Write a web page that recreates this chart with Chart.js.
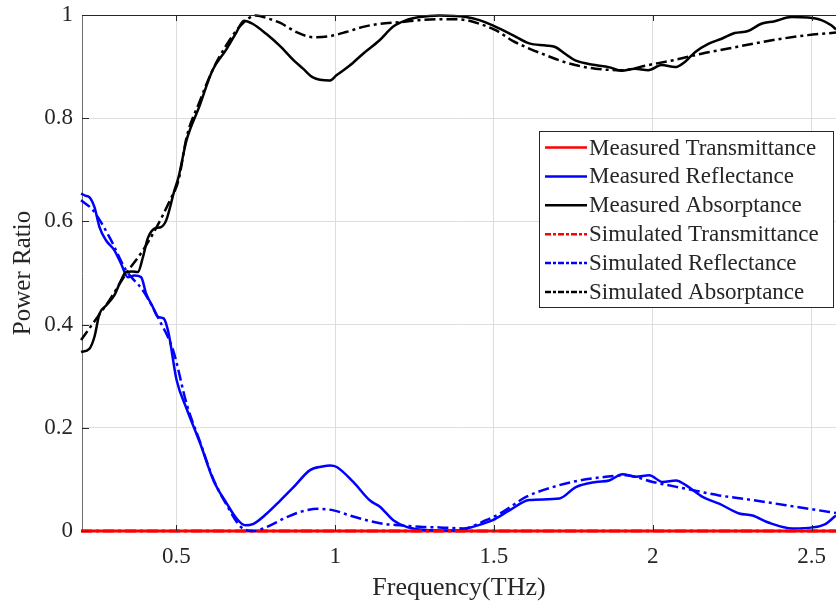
<!DOCTYPE html>
<html><head><meta charset="utf-8">
<script src="https://cdn.jsdelivr.net/npm/chart.js@4/dist/chart.umd.min.js"></script>
<style>html,body{margin:0;padding:0;background:#fff}#wrap{width:836px;height:608px}</style>
</head><body><div id="wrap"><canvas id="c" width="836" height="608"></canvas></div>
<script>
// ---- data ----
const seriesNames = ["Measured Transmittance","Measured Reflectance","Measured Absorptance","Simulated Transmittance","Simulated Reflectance","Simulated Absorptance"];

const freqTrans = [0.2,0.6,1.0,1.4,1.8,2.2,2.6];
const measTrans = [0,0,0,0,0,0,0];
const simTrans  = [0,0,0,0,0,0,0];

const freqMeasRefl = [0.200,0.213,0.226,0.242,0.258,0.279,0.305,0.326,0.347,0.368,0.389,0.405,0.426,0.442,0.460,0.475,0.501,0.533,0.575,0.617,0.659,0.690,0.717,0.743,0.785,0.827,0.869,0.921,0.960,0.984,1.005,1.057,1.110,1.141,1.183,1.225,1.267,1.330,1.391,1.433,1.496,1.549,1.611,1.706,1.758,1.821,1.863,1.905,1.947,1.989,2.031,2.073,2.104,2.157,2.209,2.272,2.314,2.366,2.440,2.503,2.545,2.571,2.577];
const measRefl = [0.654,0.650,0.647,0.628,0.589,0.563,0.544,0.518,0.492,0.495,0.492,0.460,0.434,0.415,0.412,0.385,0.292,0.236,0.170,0.098,0.053,0.024,0.011,0.014,0.034,0.059,0.085,0.118,0.125,0.127,0.124,0.095,0.059,0.047,0.021,0.008,0.003,0.001,0.001,0.008,0.021,0.040,0.060,0.063,0.085,0.095,0.098,0.110,0.105,0.108,0.095,0.098,0.089,0.066,0.053,0.034,0.030,0.016,0.005,0.007,0.014,0.027,0.030];

const freqMeasAbs = [0.200,0.226,0.242,0.258,0.279,0.305,0.326,0.342,0.360,0.379,0.395,0.410,0.431,0.452,0.468,0.494,0.507,0.532,0.572,0.614,0.656,0.687,0.713,0.740,0.782,0.826,0.868,0.899,0.930,0.983,1.004,1.046,1.088,1.140,1.182,1.224,1.266,1.328,1.412,1.454,1.496,1.559,1.611,1.664,1.693,1.724,1.756,1.819,1.861,1.902,1.944,1.986,2.028,2.070,2.101,2.133,2.175,2.217,2.258,2.300,2.342,2.384,2.437,2.489,2.531,2.562,2.577];
const measAbs = [0.347,0.353,0.376,0.421,0.437,0.457,0.486,0.502,0.503,0.502,0.531,0.567,0.586,0.589,0.602,0.660,0.686,0.757,0.822,0.893,0.932,0.964,0.989,0.983,0.964,0.940,0.913,0.896,0.879,0.873,0.883,0.902,0.925,0.951,0.977,0.990,0.996,0.999,0.996,0.990,0.980,0.961,0.945,0.941,0.938,0.925,0.912,0.903,0.899,0.892,0.896,0.893,0.903,0.899,0.909,0.928,0.944,0.954,0.965,0.969,0.983,0.988,0.996,0.995,0.990,0.980,0.972];

const freqSimRefl = [0.200,0.237,0.289,0.342,0.395,0.447,0.490,0.533,0.575,0.617,0.659,0.703,0.743,0.785,0.838,0.890,0.948,0.995,1.047,1.099,1.152,1.204,1.267,1.329,1.402,1.475,1.528,1.601,1.685,1.769,1.852,1.915,2.000,2.104,2.209,2.314,2.419,2.524,2.577];
const simRefl = [0.641,0.622,0.570,0.505,0.466,0.408,0.350,0.245,0.172,0.100,0.050,0.008,0.000,0.008,0.024,0.037,0.043,0.040,0.030,0.021,0.014,0.011,0.008,0.007,0.005,0.021,0.037,0.066,0.085,0.098,0.105,0.108,0.095,0.082,0.069,0.060,0.050,0.040,0.035];

const freqSimAbs = [0.200,0.237,0.289,0.342,0.395,0.438,0.480,0.507,0.533,0.572,0.614,0.656,0.700,0.750,0.790,0.826,0.878,0.930,0.983,1.035,1.088,1.140,1.203,1.266,1.350,1.412,1.454,1.507,1.559,1.611,1.664,1.706,1.756,1.819,1.902,1.986,2.070,2.154,2.238,2.321,2.405,2.489,2.577];
const simAbs = [0.370,0.402,0.447,0.499,0.544,0.589,0.641,0.680,0.765,0.830,0.893,0.940,0.978,0.999,0.993,0.985,0.967,0.957,0.959,0.967,0.977,0.983,0.986,0.990,0.992,0.990,0.983,0.970,0.950,0.935,0.922,0.912,0.903,0.896,0.893,0.903,0.913,0.925,0.935,0.945,0.954,0.961,0.966];

const xTickValues = [0.5,1,1.5,2,2.5];
const yTickValues = [0,0.2,0.4,0.6,0.8,1];
const xRange = [0.203,2.577];
const yRange = [0,1];

// ---- chart ----
const SERIF = "'Liberation Serif','Times New Roman',serif";
const TXT = '#262626';
const DASHDOT = [11,4,3,4];
const pts = (xs, ys) => xs.map((x,i)=>({x:x, y:ys[i]}));
const mk = (i, xs, ys, color, dash, w) => ({
  label: seriesNames[i], data: pts(xs, ys), borderColor: color, backgroundColor: color,
  borderWidth: w || 2.5, borderDash: dash, pointRadius: 0, fill: false, clip: 4,
  cubicInterpolationMode: 'monotone', order: 6 - i
});
const datasets = [
  mk(0, freqTrans, measTrans, '#ff0000', [], 3),
  mk(1, freqMeasRefl, measRefl, '#0000ff', []),
  mk(2, freqMeasAbs, measAbs, '#000000', []),
  mk(3, freqTrans, simTrans, '#ff0000', DASHDOT, 3),
  mk(4, freqSimRefl, simRefl, '#0000ff', DASHDOT),
  mk(5, freqSimAbs, simAbs, '#000000', DASHDOT)
];

const decor = {
  id: 'decor',
  afterDatasetsDraw(chart) {
    const ctx = chart.ctx, a = chart.chartArea;
    const xs = chart.scales.x, ys = chart.scales.y;
    ctx.save();
    ctx.strokeStyle = TXT; ctx.lineWidth = 1;
    ctx.beginPath(); ctx.moveTo(a.left, a.top + 0.5); ctx.lineTo(a.right, a.top + 0.5); ctx.stroke();
    ctx.beginPath();
    xTickValues.forEach(v => {
      const px = Math.round(xs.getPixelForValue(v)) + 0.5;
      ctx.moveTo(px, a.bottom); ctx.lineTo(px, a.bottom - 6);
      ctx.moveTo(px, a.top); ctx.lineTo(px, a.top + 6);
    });
    yTickValues.forEach(v => {
      const py = Math.round(ys.getPixelForValue(v)) + 0.5;
      ctx.moveTo(a.left, py); ctx.lineTo(a.left + 7, py);
    });
    ctx.stroke();
    ctx.restore();
  },
  afterDraw(chart) {
    const ctx = chart.ctx;
    ctx.save();
    const bx = 539.5, by = 131.5, bw = 294, bh = 176;
    ctx.fillStyle = '#ffffff'; ctx.fillRect(bx, by, bw, bh);
    ctx.strokeStyle = TXT; ctx.lineWidth = 1; ctx.strokeRect(bx, by, bw, bh);
    ctx.font = '23px ' + SERIF; ctx.textBaseline = 'middle'; ctx.fillStyle = TXT;
    chart.data.datasets.forEach((ds, i) => {
      const cy = 147.5 + i * 28.9;
      ctx.save();
      ctx.strokeStyle = ds.borderColor; ctx.lineWidth = 2.5;
      ctx.setLineDash(ds.borderDash && ds.borderDash.length ? [6,2,3,2] : []);
      ctx.beginPath(); ctx.moveTo(545, cy); ctx.lineTo(587, cy); ctx.stroke();
      ctx.restore();
      ctx.fillText(ds.label, 589, cy + 1);
    });
    ctx.restore();
  }
};

new Chart(document.getElementById('c'), {
  type: 'line',
  data: { datasets: datasets },
  options: {
    responsive: false, animation: false, devicePixelRatio: 1,
    layout: { padding: { top: 15, left: 0, right: 0, bottom: 0 } },
    plugins: { legend: { display: false }, tooltip: { enabled: false } },
    scales: {
      x: {
        type: 'linear', min: xRange[0], max: xRange[1],
        afterBuildTicks: s => { s.ticks = xTickValues.map(v => ({ value: v })); },
        afterFit: s => { s.height = 77; s.paddingLeft = 0; s.paddingRight = 0; },
        ticks: { font: { family: SERIF, size: 23 }, color: TXT, padding: 12, callback: v => String(v) },
        grid: { color: '#dedede', drawTicks: false, lineWidth: 1 },
        border: { color: '#555555', width: 1 },
        title: { display: true, text: 'Frequency(THz)', font: { family: SERIF, size: 26 }, color: TXT, padding: { top: 4, bottom: 4 } }
      },
      y: {
        type: 'linear', min: yRange[0], max: yRange[1],
        afterBuildTicks: s => { s.ticks = yTickValues.map(v => ({ value: v })); },
        afterFit: s => { s.width = 82; s.paddingTop = 0; s.paddingBottom = 0; },
        ticks: { font: { family: SERIF, size: 23 }, color: TXT, padding: 9, callback: v => String(Math.round(v * 10) / 10) },
        grid: { color: '#dedede', drawTicks: false, lineWidth: 1 },
        border: { color: '#6e6e6e', width: 1 },
        title: { display: true, text: 'Power Ratio', font: { family: SERIF, size: 25 }, color: TXT, padding: { top: 8, bottom: 0 } }
      }
    }
  },
  plugins: [decor]
});
</script></body></html>
